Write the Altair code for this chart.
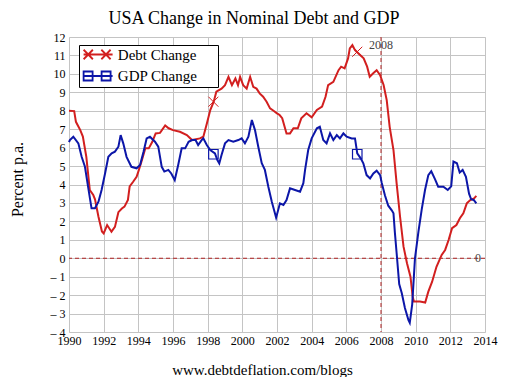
import altair as alt
import pandas as pd

# ---------------- data ----------------
series_names = ["Debt Change", "GDP Change"]
series_colors = ["#d21f1f", "#0c16a8"]

debt_years = [1990.0, 1990.3, 1990.4, 1990.65, 1990.8, 1991.0, 1991.2, 1991.4, 1991.5, 1991.7,
              1991.9, 1992.0, 1992.2, 1992.45, 1992.65, 1992.85, 1993.05, 1993.2, 1993.4, 1993.5,
              1993.7, 1993.9, 1994.0, 1994.2, 1994.4, 1994.6, 1994.8, 1995.0, 1995.25, 1995.55,
              1995.75, 1996.0, 1996.4, 1996.8, 1997.1, 1997.55, 1997.75, 1997.95, 1998.15, 1998.35,
              1998.5, 1998.8, 1999.0, 1999.2, 1999.4, 1999.6, 1999.75, 1999.87, 2000.05, 2000.25,
              2000.45, 2000.63, 2000.82, 2001.0, 2001.2, 2001.4, 2001.6, 2001.8, 2002.0, 2002.15,
              2002.3, 2002.55, 2002.75, 2002.95, 2003.2, 2003.4, 2003.7, 2004.0, 2004.3, 2004.6,
              2004.8, 2004.95, 2005.25, 2005.55, 2005.7, 2005.9, 2006.1, 2006.2, 2006.35, 2006.5,
              2006.7, 2007.0, 2007.2, 2007.35, 2007.55, 2007.75, 2007.95, 2008.15, 2008.33, 2008.5,
              2008.72, 2008.9, 2009.1, 2009.3, 2009.5, 2009.7, 2009.83, 2009.9, 2010.25, 2010.55,
              2010.73, 2010.95, 2011.2, 2011.5, 2011.7, 2011.9, 2012.1, 2012.35, 2012.55, 2012.75,
              2012.95, 2013.15, 2013.37, 2013.5]
debt_values = [8.0, 7.98, 7.4, 6.95, 6.6, 5.5, 3.7, 3.43, 3.2, 2.25,
               1.45, 1.35, 1.8, 1.44, 1.7, 2.5, 2.7, 2.8, 3.16, 3.9,
               4.15, 4.42, 4.7, 5.3, 5.96, 5.96, 6.3, 6.77, 6.8, 7.2,
               7.05, 6.95, 6.86, 6.68, 6.41, 6.5, 6.59, 7.3, 8.04, 8.49,
               9.03, 9.2, 9.39, 9.84, 9.39, 9.75, 9.39, 9.84, 9.39, 9.2,
               9.84, 9.3, 9.2, 8.94, 8.76, 8.49, 8.13, 8.0, 7.86, 7.77,
               7.6, 6.77, 6.77, 7.05, 7.05, 7.59, 7.86, 7.64, 8.04, 8.22,
               8.76, 9.39, 9.57, 10.2, 10.39, 10.3, 10.84, 11.38, 11.56, 11.29,
               11.11, 10.84, 10.39, 9.84, 10.03, 10.2, 9.93, 9.4, 8.58, 7.13,
               5.87, 4.07, 2.25, 0.63, -0.27, -1.0, -2.1, -2.35, -2.35, -2.4,
               -1.81, -1.27, -0.46, 0.18, 0.45, 0.99, 1.63, 1.8, 2.17, 2.44,
               2.98, 3.16, 3.25, 3.38]

gdp_years = [1990.0, 1990.05, 1990.25, 1990.54, 1990.73, 1990.92, 1991.1, 1991.3, 1991.5, 1991.7,
             1991.88, 1992.08, 1992.27, 1992.46, 1992.65, 1992.85, 1992.98, 1993.13, 1993.32, 1993.6,
             1993.9, 1994.1, 1994.3, 1994.48, 1994.67, 1994.96, 1995.15, 1995.35, 1995.5, 1995.73,
             1995.9, 1996.1, 1996.3, 1996.5, 1996.7, 1996.9, 1997.1, 1997.3, 1997.45, 1997.65,
             1997.75, 1997.95, 1998.15, 1998.42, 1998.56, 1998.67, 1998.8, 1999.0, 1999.2, 1999.48,
             1999.77, 1999.96, 2000.15, 2000.35, 2000.55, 2000.73, 2000.92, 2001.12, 2001.3, 2001.5,
             2001.7, 2001.95, 2002.17, 2002.37, 2002.55, 2002.75, 2003.04, 2003.33, 2003.52, 2003.62,
             2003.8, 2004.0, 2004.3, 2004.47, 2004.67, 2004.86, 2005.06, 2005.25, 2005.45, 2005.63,
             2005.83, 2006.02, 2006.31, 2006.5, 2006.63, 2006.83, 2006.98, 2007.17, 2007.37, 2007.56,
             2007.75, 2007.95, 2008.04, 2008.23, 2008.42, 2008.62, 2008.72, 2008.8, 2008.9, 2009.05,
             2009.2, 2009.38, 2009.58, 2009.66, 2009.8, 2009.96, 2010.16, 2010.35, 2010.54, 2010.73,
             2010.9, 2011.12, 2011.3, 2011.6, 2011.85, 2012.05, 2012.18, 2012.38, 2012.54, 2012.71,
             2012.9, 2013.08, 2013.2, 2013.35, 2013.5]
gdp_values = [6.3, 6.41, 6.59, 6.23, 5.5, 4.96, 3.88, 2.71, 2.71, 3.07,
              3.7, 4.6, 5.5, 5.69, 5.78, 6.05, 6.68, 6.23, 5.5, 4.96,
              4.88, 5.06, 5.78, 6.5, 6.59, 6.32, 6.05, 4.96, 4.7, 4.79,
              4.6, 4.24, 5.06, 5.96, 5.96, 6.32, 6.41, 6.41, 6.14, 6.41,
              6.5, 6.14, 5.87, 5.69, 5.33, 5.15, 5.6, 6.23, 6.41, 6.32,
              6.41, 6.5, 6.23, 6.59, 7.5, 6.95, 6.05, 5.15, 4.79, 3.88,
              3.07, 2.2, 2.98, 2.89, 3.16, 3.79, 3.7, 3.61, 4.07, 4.79,
              5.87, 6.5, 7.05, 7.13, 6.41, 6.23, 6.77, 6.41, 6.68, 6.5,
              6.77, 6.59, 6.5, 6.5, 5.69, 5.42, 5.15, 4.51, 4.33, 4.6,
              4.75, 4.51, 4.1, 3.4, 2.85, 2.6, 2.44, 1.4, 0.3, -1.4,
              -1.9, -2.7, -3.34, -3.5, -2.5, 0.0, 1.45, 2.65, 3.7, 4.51,
              4.72, 4.28, 3.88, 3.88, 3.7, 3.9, 5.24, 5.15, 4.65, 4.79,
              4.42, 3.5, 3.2, 3.16, 2.98]

marker_years = [1998.33, 2006.63]
debt_marker_values = [8.49, 11.2]
gdp_marker_values = [5.64, 5.64]

x_ticks = list(range(1990, 2015, 2))
y_ticks = list(range(-4, 13))
event_year = [2008]
event_label = ["2008"]
event_label_value = [11.56]
zero_label = ["0"]
zero_label_year = [2013.6]

chart_title = "USA Change in Nominal Debt and GDP"
y_title = "Percent p.a."
source_text = "www.debtdeflation.com/blogs"

# ---------------- tables ----------------
debt_df = pd.DataFrame({"year": debt_years, "value": debt_values})
gdp_df = pd.DataFrame({"year": gdp_years, "value": gdp_values})
debt_mk = pd.DataFrame({"year": marker_years, "value": debt_marker_values})
gdp_mk = pd.DataFrame({"year": marker_years, "value": gdp_marker_values})
legend_df = pd.DataFrame({"year": [1990.0, 1990.0], "value": [0.0, 0.0], "series": series_names})
zero_df = pd.DataFrame({"value": [0]})
event_df = pd.DataFrame({"year": event_year})
event_text_df = pd.DataFrame({"year": event_year, "value": event_label_value, "label": event_label})
zero_text_df = pd.DataFrame({"year": zero_label_year, "value": [0], "label": zero_label})

FONT = "Liberation Serif"
xscale = alt.Scale(domain=[1990, 2014], nice=False, zero=False)
yscale = alt.Scale(domain=[-4, 12], nice=False, zero=False)
cscale = alt.Scale(domain=series_names, range=series_colors)

x_axis = alt.Axis(values=x_ticks, format="d", labelFlush=False, labelFont=FONT, labelFontSize=12,
                  labelColor="black", labelPadding=3, ticks=False, domain=False,
                  gridColor="#c4c4c4", gridWidth=1,
                  title=source_text, titleFont=FONT, titleFontSize=15, titleFontWeight="normal",
                  titleColor="black", titleX=193, titleY=42, titleAlign="center",
                  titleBaseline="alphabetic")
y_axis = alt.Axis(values=y_ticks, labelFont=FONT, labelFontSize=12, labelColor="black",
                  labelPadding=4, ticks=False, domain=False, gridColor="#c4c4c4", gridWidth=1,
                  labelExpr="datum.value < 0 ? '\u2013 ' + abs(datum.value) : datum.label",
                  title=y_title, titleFont=FONT, titleFontSize=16, titleFontWeight="normal",
                  titleColor="black", titleAngle=-90, titleX=-44, titleY=142,
                  titleAlign="center", titleBaseline="bottom")

X = alt.X("year:Q", scale=xscale, axis=x_axis)
Y = alt.Y("value:Q", scale=yscale, axis=y_axis)

debt_line = alt.Chart(debt_df).mark_line(strokeWidth=2, color=series_colors[0]).encode(x=X, y=Y)
gdp_line = alt.Chart(gdp_df).mark_line(strokeWidth=2, color=series_colors[1]).encode(x=X, y=Y)

debt_markers = alt.Chart(debt_mk).mark_point(
    shape="M-1,-1L1,1M-1,1L1,-1", size=100, filled=False, strokeWidth=1, color=series_colors[0], opacity=1
).encode(x=X, y=Y)

gdp_markers = alt.Chart(gdp_mk).mark_point(
    shape="square", size=90, filled=False, strokeWidth=1.2, color=series_colors[1], opacity=1
).encode(x=X, y=Y)

debt_path = "M-2.7,0H3.1M-2.7,-0.95L-0.85,0.95M-2.7,0.95L-0.85,-0.95M0.85,-0.95L2.7,0.95M0.85,0.95L2.7,-0.95"
gdp_path = "M-2.7,0H3.1M-2.7,-0.9H-0.9V0.9H-2.7ZM0.9,-0.9H2.7V0.9H0.9Z"
leg = alt.Legend(title="__", titleOrient="right", titleOpacity=0, titleFontSize=10,
                 titlePadding=7, titleColor="white",
                 orient="none", legendX=10, legendY=8, padding=2,
                 symbolSize=100, symbolStrokeWidth=1.8, symbolOffset=8.6, labelOffset=13.2,
                 labelFont=FONT, labelFontSize=15, labelColor="black", rowPadding=4.5,
                 strokeColor="black", fillColor="white")
legend_layer = alt.Chart(legend_df).mark_point(filled=False, strokeWidth=1.8, opacity=1).encode(
    x=X, y=Y,
    color=alt.Color("series:N", scale=cscale, legend=leg),
    shape=alt.Shape("series:N", scale=alt.Scale(domain=series_names, range=[debt_path, gdp_path]), legend=leg),
).transform_filter("false")

zero_rule = alt.Chart(zero_df).mark_rule(color="#b02020", strokeWidth=1, strokeDash=[4, 3]).encode(y=Y)
event_rule = alt.Chart(event_df).mark_rule(color="#b02020", strokeWidth=1, strokeDash=[4, 3]).encode(x=X)

event_text = alt.Chart(event_text_df).mark_text(font=FONT, fontSize=12, color="#444444",
                                                 align="center", baseline="middle").encode(
    x=X, y=Y, text="label:N")
zero_text = alt.Chart(zero_text_df).mark_text(font=FONT, fontSize=12, color="#444444",
                                               align="center", baseline="middle").encode(
    x=X, y=Y, text="label:N")

chart = alt.layer(
    zero_rule, event_rule, debt_line, gdp_line, debt_markers, gdp_markers, event_text, zero_text, legend_layer
).properties(
    width=416, height=295,
    autosize=alt.AutoSizeParams(type="none"),
    padding={"left": 61, "top": 29, "right": 16, "bottom": 45},
    title=alt.TitleParams(chart_title, font=FONT, fontSize=18, fontWeight="normal", color="black",
                          anchor="middle", frame="group", dx=-23, offset=-11, baseline="alphabetic"),
).configure_view(stroke="black", strokeWidth=1).configure(background="white")

chart.save("out.html", embed_options={"renderer": "svg", "actions": False})
